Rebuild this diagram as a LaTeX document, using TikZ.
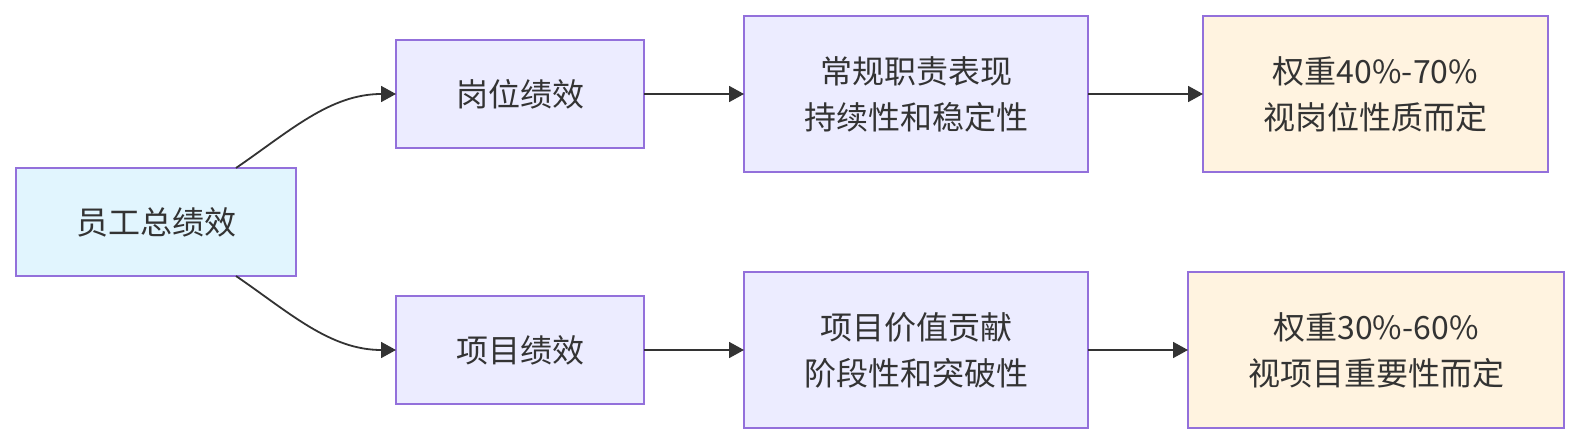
\documentclass[tikz,border=0pt]{standalone}
\usepackage{fontspec}
\setmainfont{Noto Sans CJK SC}
\usetikzlibrary{arrows.meta}
\definecolor{txt}{HTML}{333333}
\definecolor{edge}{HTML}{9370DB}
\definecolor{fillA}{HTML}{E1F5FE}
\definecolor{fillB}{HTML}{ECECFF}
\definecolor{fillD}{HTML}{FFF3E0}
\tikzset{
  box/.style={draw=edge, line width=1.6pt, inner sep=0pt, outer sep=0pt, align=center,
    text=txt, font=\fontsize{32}{46}\selectfont, minimum height=108pt},
  rootbox/.style={box, fill=fillA},
  midbox/.style={box, fill=fillB},
  wtbox/.style={box, fill=fillD},
  conn/.style={draw=txt, line width=1.8pt, -{Triangle[length=15pt,width=16pt]}}
}
\begin{document}
\begin{tikzpicture}[x=1pt,y=-1pt]
\useasboundingbox (0,0) rectangle (1580,444);
\node[rootbox, minimum width=280pt] (A) at (156,222) {员工总绩效};
\node[midbox, minimum width=248pt] (B1) at (520,94) {岗位绩效};
\node[midbox, minimum width=344pt, minimum height=156pt] (C1) at (916,94) {常规职责表现\\持续性和稳定性};
\node[wtbox, minimum width=345pt, minimum height=156pt] (D1) at (1375.5,94) {权重40\%-70\%\\视岗位性质而定};
\node[midbox, minimum width=248pt] (B2) at (520,350) {项目绩效};
\node[midbox, minimum width=344pt, minimum height=156pt] (C2) at (916,350) {项目价值贡献\\阶段性和突破性};
\node[wtbox, minimum width=376pt, minimum height=156pt] (D2) at (1376,350) {权重30\%-60\%\\视项目重要性而定};
\draw[conn] ([xshift=80pt]A.north) .. controls +(54,-37) and +(-66,0) .. (B1.west);
\draw[conn] ([xshift=80pt]A.south) .. controls +(54,37) and +(-66,0) .. (B2.west);
\draw[conn] (B1.east) -- (C1.west);
\draw[conn] (C1.east) -- (D1.west);
\draw[conn] (B2.east) -- (C2.west);
\draw[conn] (C2.east) -- (D2.west);
\end{tikzpicture}
\end{document}
